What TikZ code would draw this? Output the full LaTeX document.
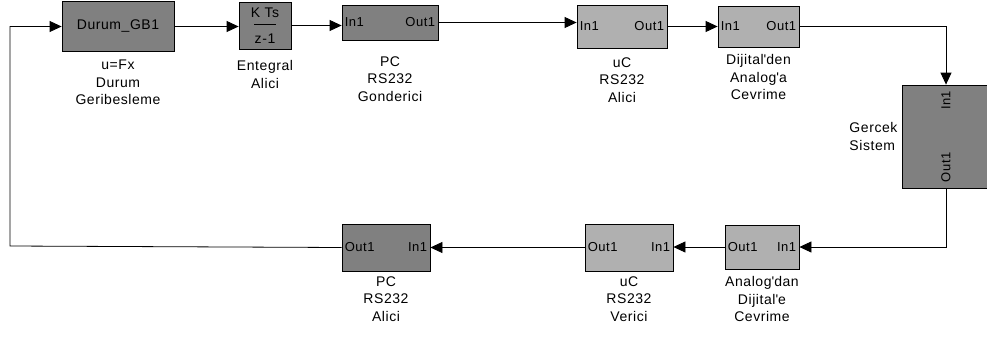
\documentclass[tikz,border=0pt]{standalone}
\usepackage{fontspec}
\setmainfont[LetterSpace=4]{Liberation Sans}
\usetikzlibrary{arrows.meta, positioning}

\definecolor{darkblock}{gray}{0.5}
\definecolor{lightblock}{gray}{0.69}

\begin{document}
\begin{tikzpicture}[
        x=1pt, y=-1pt,
        font=\fontsize{14}{17.5}\selectfont,
        block/.style={rectangle, draw, line width=0.8pt, inner sep=0pt},
        darkblk/.style={block, fill=darkblock},
        lightblk/.style={block, fill=lightblock},
        port/.style={font=\fontsize{13}{15}\selectfont, inner sep=3pt},
        caption/.style={align=center, inner sep=0pt},
        arrow/.style={line width=0.8pt, -{Triangle[length=12pt, width=11pt]}}
    ]
    \useasboundingbox (0,0) rectangle (987,337);

    % Top row: controller side
    \node [darkblk, minimum width=112pt, minimum height=50pt] (durum) at (118,26.5) {Durum\_GB1};
    \node [darkblk, minimum width=52pt, minimum height=47pt] (integ) at (265,25.5) {};
    \node (integnum) at (265,13) {K Ts};
    \node (integden) at (265,39) {z-1};
    \draw [line width=0.8pt] ([xshift=-11pt, yshift=1.5pt]integ.center) -- ([xshift=11pt, yshift=1.5pt]integ.center);
    \node [darkblk, minimum width=96pt, minimum height=35pt] (pcgon) at (390,22.5) {};
    \node [lightblk, minimum width=90pt, minimum height=43pt] (ucal) at (622,26.5) {};
    \node [lightblk, minimum width=81pt, minimum height=41pt] (dac) at (758.5,26.5) {};

    % Plant
    \node [darkblk, minimum width=88pt, minimum height=103pt] (plant) at (946,136.5) {};

    % Bottom row: measurement side
    \node [lightblk, minimum width=74pt, minimum height=44pt] (adc) at (762,247) {};
    \node [lightblk, minimum width=88pt, minimum height=47pt] (ucver) at (629,247.5) {};
    \node [darkblk, minimum width=88pt, minimum height=47pt] (pcal) at (386,247.5) {};

    % Port labels
    \node [port, anchor=west] at (pcgon.west) {In1};
    \node [port, anchor=east] at (pcgon.east) {Out1};
    \node [port, anchor=west] at (ucal.west) {In1};
    \node [port, anchor=east] at (ucal.east) {Out1};
    \node [port, anchor=west] at (dac.west) {In1};
    \node [port, anchor=east] at (dac.east) {Out1};
    \node [port, rotate=90, anchor=east] at ([yshift=-3pt]plant.north) {In1};
    \node [port, rotate=90, anchor=west] at ([yshift=3pt]plant.south) {Out1};
    \node [port, anchor=east] at (adc.east) {In1};
    \node [port, anchor=west] at (adc.west) {Out1};
    \node [port, anchor=east] at (ucver.east) {In1};
    \node [port, anchor=west] at (ucver.west) {Out1};
    \node [port, anchor=east] at (pcal.east) {In1};
    \node [port, anchor=west] at (pcal.west) {Out1};

    % Captions
    \node [caption, below=8pt of durum] {u=Fx\\Durum\\Geribesleme};
    \node [caption, below=11pt of integ] {Entegral\\Alici};
    \node [caption, below=16pt of pcgon] {PC\\RS232\\Gonderici};
    \node [caption, below=9pt of ucal] {uC\\RS232\\Alici};
    \node [caption, below=7pt of dac] {Dijital\textquotesingle den\\Analog\textquotesingle a\\Cevrime};
    \node [caption, align=left, left=4pt of plant] {Gercek\\Sistem};
    \node [caption, below=7pt of adc] {Analog\textquotesingle dan\\Dijital\textquotesingle e\\Cevrime};
    \node [caption, below=5pt of ucver] {uC\\RS232\\Verici};
    \node [caption, below=5pt of pcal] {PC\\RS232\\Alici};

    \coordinate (loop) at (10,246);

    % Connecting Lines
    \draw [arrow] (durum.east) -- (durum.east -| integ.west);
    \draw [arrow] (integ.east) -- (integ.east -| pcgon.west);
    \draw [arrow] (pcgon.east) -- (pcgon.east -| ucal.west);
    \draw [arrow] (ucal.east) -- (ucal.east -| dac.west);
    \draw [arrow] (dac.east) -| (plant.north);
    \draw [arrow] (plant.south) |- (adc.east);
    \draw [arrow] (adc.west) -- (adc.west -| ucver.east);
    \draw [arrow] (ucver.west) -- (ucver.west -| pcal.east);
    \draw [arrow] (pcal.west) -- (loop) |- (durum.west);

\end{tikzpicture}
\end{document}
